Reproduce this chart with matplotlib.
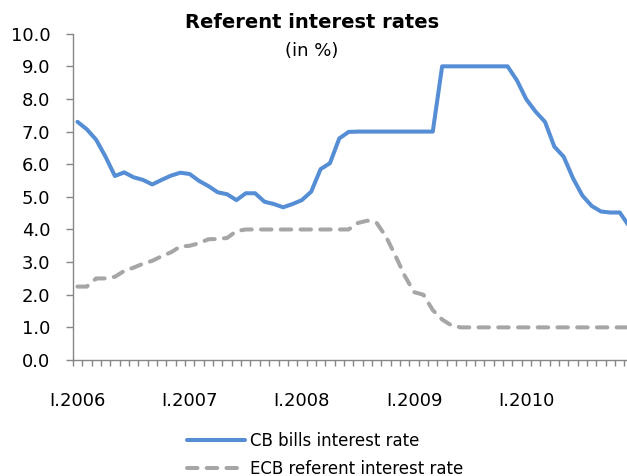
import matplotlib
matplotlib.use("Agg")
import matplotlib.pyplot as plt
from matplotlib.ticker import FixedLocator, NullFormatter

# monthly data, I.2006 - XII.2010
years = ["I.2006", "I.2007", "I.2008", "I.2009", "I.2010"]
cb_bills = [7.30, 7.07, 6.75, 6.23, 5.64, 5.75, 5.60, 5.52, 5.38, 5.52, 5.65, 5.74,
            5.70, 5.49, 5.33, 5.14, 5.08, 4.90, 5.11, 5.11, 4.85, 4.78, 4.68, 4.78,
            4.90, 5.16, 5.85, 6.03, 6.79, 6.99, 7.00, 7.00, 7.00, 7.00, 7.00, 7.00,
            7.00, 7.00, 7.00, 9.00, 9.00, 9.00, 9.00, 9.00, 9.00, 9.00, 9.00, 8.57,
            7.99, 7.61, 7.30, 6.54, 6.23, 5.57, 5.04, 4.72, 4.55, 4.52, 4.52, 4.10]
ecb_rate = [2.25, 2.25, 2.50, 2.50, 2.55, 2.73, 2.83, 2.95, 3.04, 3.18, 3.30, 3.48,
            3.50, 3.58, 3.70, 3.71, 3.74, 3.95, 4.00, 4.00, 4.00, 4.00, 4.00, 4.00,
            4.00, 4.00, 4.00, 4.00, 4.00, 4.00, 4.20, 4.27, 4.20, 3.78, 3.20, 2.58,
            2.08, 2.00, 1.53, 1.24, 1.06, 1.00, 1.00, 1.00, 1.00, 1.00, 1.00, 1.00,
            1.00, 1.00, 1.00, 1.00, 1.00, 1.00, 1.00, 1.00, 1.00, 1.00, 1.00, 1.00]

W, H = 627, 476
fig = plt.figure(figsize=(W / 100, H / 100), dpi=100)
# plot area runs a bit past the right edge (reference is cropped)
ax = fig.add_axes([72.8 / W, 116 / H, 561 / W, 326.3 / H])

n = len(cb_bills)
x = list(range(n))
ax.plot(x, cb_bills, color="#558ED5", lw=2.9, solid_capstyle="round",
        solid_joinstyle="round", label="CB bills interest rate")
ax.plot(x, ecb_rate, color="#A6A6A6", lw=2.9, dashes=(2.6, 2.3),
        dash_capstyle="round", label="ECB referent interest rate")

ax.set_xlim(-0.5, n - 0.5)
ax.set_ylim(0, 10)

axis_col = "#868686"
for s in ["top", "right"]:
    ax.spines[s].set_visible(False)
for s in ["left", "bottom"]:
    ax.spines[s].set_color(axis_col)
    ax.spines[s].set_linewidth(1.0)

ax.set_yticks(range(0, 11))
ax.set_yticklabels(["%.1f" % v for v in range(0, 11)], fontsize=13)
ax.tick_params(axis="y", direction="out", length=4.7, width=1.0, color=axis_col, pad=11.5)

ax.set_xticks([0, 12, 24, 36, 48])
ax.set_xticklabels(years, fontsize=13)
ax.xaxis.set_minor_locator(FixedLocator([i - 0.5 for i in range(n + 1)]))
ax.xaxis.set_minor_formatter(NullFormatter())
ax.tick_params(axis="x", which="major", length=0, pad=23)
ax.tick_params(axis="x", which="minor", direction="out", length=4.3, width=1.0, color=axis_col)

fig.text(312 / W, 1 - 22 / H, "Referent interest rates", ha="center", va="center",
         fontsize=14, fontweight="bold")
fig.text(312 / W, 1 - 51 / H, "(in %)", ha="center", va="center", fontsize=13)

fig.legend(loc="upper left", bbox_to_anchor=(186.7 / W, 1 - 432 / H), frameon=False,
           fontsize=12, handlelength=3.5, handletextpad=0.3, labelspacing=0.6,
           borderpad=0, borderaxespad=0)

fig.savefig("out.png", dpi=100)
